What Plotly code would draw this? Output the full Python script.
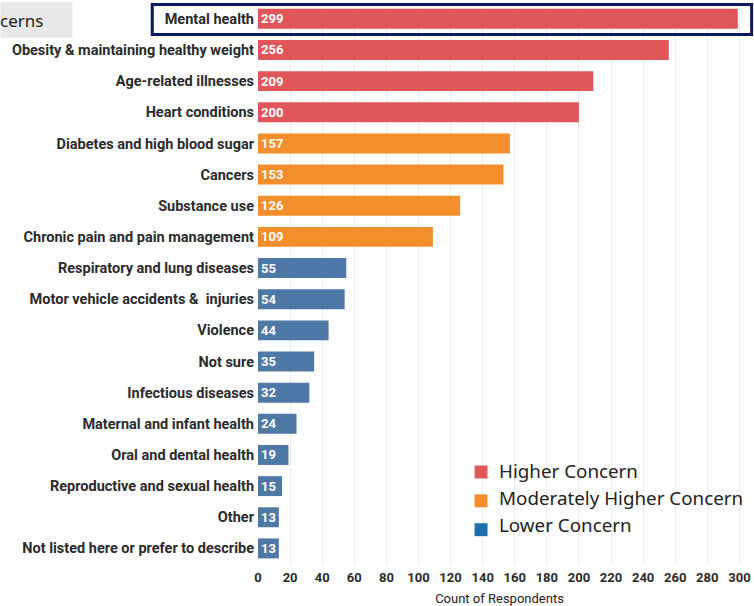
import plotly.graph_objects as go

categories = [
    "Mental health", "Obesity & maintaining healthy weight", "Age-related illnesses",
    "Heart conditions", "Diabetes and high blood sugar", "Cancers", "Substance use",
    "Chronic pain and pain management", "Respiratory and lung diseases",
    "Motor vehicle accidents &  injuries", "Violence", "Not sure", "Infectious diseases",
    "Maternal and infant health", "Oral and dental health",
    "Reproductive and sexual health", "Other", "Not listed here or prefer to describe",
]
counts = [299, 256, 209, 200, 157, 153, 126, 109, 55, 54, 44, 35, 32, 24, 19, 15, 13, 13]
levels = ["Higher Concern"] * 4 + ["Moderately Higher Concern"] * 4 + ["Lower Concern"] * 10
level_names = ["Higher Concern", "Moderately Higher Concern", "Lower Concern"]
level_colors = {"Higher Concern": "#E15759", "Moderately Higher Concern": "#F28E2B",
                "Lower Concern": "#4E79A7"}
legend_colors = {"Higher Concern": "#E15759", "Moderately Higher Concern": "#F28E2B",
                 "Lower Concern": "#1F6FAE"}
x_ticks = list(range(0, 301, 20))

LABEL_FONT = "Roboto, Arial, sans-serif"

fig = go.Figure()
for lvl in level_names:
    ys = [c for c, l in zip(categories, levels) if l == lvl]
    xs = [v for v, l in zip(counts, levels) if l == lvl]
    fig.add_trace(go.Bar(
        x=xs, y=ys, orientation="h", name=lvl, showlegend=False,
        marker=dict(color=level_colors[lvl], line=dict(width=0)),
        width=0.64,
        text=[str(v) for v in xs], textposition="inside", insidetextanchor="start",
        textangle=0,
        textfont=dict(color="white", size=13, family=LABEL_FONT, weight="bold"),
        constraintext="none", cliponaxis=False,
    ))

PLOT_L, PLOT_R, PLOT_T, PLOT_B = 258, 742, 3, 567

fig.update_layout(
    width=754, height=606,
    margin=dict(l=PLOT_L, r=754 - PLOT_R, t=PLOT_T, b=606 - PLOT_B),
    plot_bgcolor="white", paper_bgcolor="white",
    barmode="overlay",
    showlegend=False,
    xaxis=dict(range=[0, 301], tickvals=x_ticks, showgrid=True, gridcolor="#ececec",
               gridwidth=1, zeroline=False, showline=False, ticks="", ticklabelstandoff=4,
               tickfont=dict(size=13, family=LABEL_FONT, color="#2b2b2b", weight="bold"),
               title=dict(text="Count of Respondents", standoff=9,
                          font=dict(size=13, family="Roboto, sans-serif", color="#222222"))),
    yaxis=dict(categoryorder="array", categoryarray=categories, autorange="reversed",
               showgrid=False, ticks="", ticklabelstandoff=3,
               tickfont=dict(size=14.5, family=LABEL_FONT, color="#2b2b2b", weight="bold")),
)


def px_to_paper(px, py):
    return (px - PLOT_L) / (PLOT_R - PLOT_L), (PLOT_B - py) / (PLOT_B - PLOT_T)


# legend drawn as swatches plus labels
for i, lvl in enumerate(level_names):
    sx0, sy0 = px_to_paper(475, 468 + 29 * i)
    sx1, sy1 = px_to_paper(488, 481 + 29 * i)
    fig.add_shape(type="rect", xref="paper", yref="paper", x0=sx0, x1=sx1, y0=sy1, y1=sy0,
                  line=dict(width=0), fillcolor=legend_colors[lvl])
    tx, ty = px_to_paper(497, 474 + 27 * i)
    fig.add_annotation(xref="paper", yref="paper", x=tx, y=ty, xanchor="left", yanchor="middle",
                       text=lvl, showarrow=False,
                       font=dict(size=18.8, color="#222222", family="Noto Sans, sans-serif"))

# highlight frame around the top item
fig.add_shape(type="rect", xref="paper", yref="y", x0=-0.219, x1=1.022, y0=-0.46, y1=0.5,
              line=dict(color="#0b1a5e", width=3), fillcolor="rgba(0,0,0,0)")

# title tab in the upper-left corner
bx0, by0 = px_to_paper(0, 38)
bx1, by1 = px_to_paper(72, 2)
fig.add_shape(type="rect", xref="paper", yref="paper", x0=bx0, x1=bx1, y0=by0, y1=by1,
              line=dict(width=0), fillcolor="#e8e8e8", layer="below")
ax, ay = px_to_paper(-3, 21)
fig.add_annotation(xref="paper", yref="paper", x=ax, y=ay, xanchor="left", yanchor="middle",
                   text="cerns", showarrow=False,
                   font=dict(size=17, color="#222222", family="Noto Sans, sans-serif"))

fig.write_html("out.html")
